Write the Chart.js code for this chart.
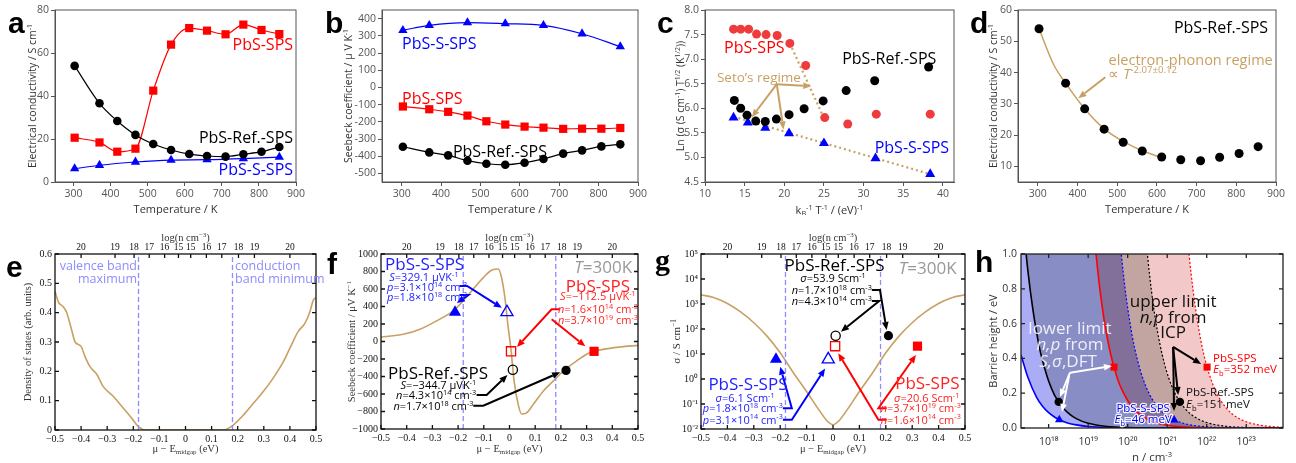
<!DOCTYPE html>
<html>
<head>
<meta charset="utf-8">
<title>PbS transport panels</title>
<script src="https://cdn.jsdelivr.net/npm/chart.js@4.4.1/dist/chart.umd.min.js"></script>
<style>
  body { margin: 0; background: #fff; }
  #wrap { position: relative; width: 1296px; height: 463px; overflow: hidden; background: #fff; }
  canvas { position: absolute; }
</style>
</head>
<body>
<div id="wrap">
  <canvas id="pa"></canvas><canvas id="pb"></canvas><canvas id="pc"></canvas><canvas id="pd"></canvas>
  <canvas id="pe"></canvas><canvas id="pf"></canvas><canvas id="pg"></canvas><canvas id="ph"></canvas>
</div>
<script>
const SANS = "'Open Sans', sans-serif";
const SERIF = "'Liberation Serif', serif";
const BOLD = "'Liberation Sans', sans-serif";
const TAN = '#c9a064';
const LAV = '#8c8cff';
const BLUE = '#0000ff', RED = '#ff0000';

// ---- a, b, d : temperature series ----
const tempAll = [303, 370, 418, 467, 515, 563, 612, 660, 710, 758, 807, 855];
const tempS = [303, 370, 467, 563, 660, 758, 855];
const condRef = [54.0, 36.6, 28.4, 21.9, 17.7, 14.9, 13.0, 12.1, 11.8, 12.9, 14.1, 16.3];
const condSps = [20.6, 18.4, 14.1, 15.5, 42.5, 63.9, 71.6, 70.4, 68.7, 73.2, 70.7, 68.8];
const condS = [6.2, 7.8, 9.3, 10.2, 10.4, 10.9, 11.6];
const seebRef = [-345, -378, -395, -426, -444, -450, -438, -416, -385, -366, -343, -331];
const seebSps = [-111, -127, -142, -164, -197, -216, -228, -234, -241, -240, -240, -236];
const seebS = [332, 361, 377, 371, 361, 312, 237];
const fitT = [303, 340, 370, 418, 467, 515, 563, 612];
const fitCond = [54, 42.5, 36.6, 28.4, 22.0, 18.0, 15.0, 12.8];
const tickT = [300, 400, 500, 600, 700, 800, 900];

// ---- c : Seto plot ----
const cSpsX = [13.6, 14.5, 15.5, 16.5, 17.7, 19.1, 20.7, 22.7, 25.1, 28.0, 31.6, 38.4];
const cSpsY = [7.61, 7.61, 7.61, 7.51, 7.50, 7.48, 7.32, 6.87, 5.81, 5.68, 5.88, 5.88];
const cRefX = [13.7, 14.5, 15.3, 16.4, 17.6, 19.0, 20.6, 22.5, 24.9, 27.8, 31.4, 38.2];
const cRefY = [6.16, 6.00, 5.86, 5.74, 5.73, 5.78, 5.87, 5.99, 6.15, 6.36, 6.56, 6.84];
const cSX = [13.6, 15.4, 17.6, 20.6, 25.0, 31.5, 38.4];
const cSY = [5.81, 5.71, 5.60, 5.49, 5.29, 4.98, 4.66];
const cGuideSpsX = [20.7, 25.0], cGuideSpsY = [7.32, 5.80];
const cGuideSX = [13.6, 38.4], cGuideSY = [5.83, 4.66];
const cGuideRefX = [13.7, 16.2], cGuideRefY = [6.16, 5.76];

// ---- e, f, g : DFT curves ----
const muDos = [-0.5, -0.487, -0.468, -0.455, -0.436, -0.423, -0.4, -0.385, -0.366, -0.34, -0.315, -0.276, -0.238, -0.206, -0.18, -0.149,
  0.15, 0.158, 0.183, 0.222, 0.26, 0.298, 0.336, 0.375, 0.4, 0.432, 0.458, 0.477, 0.49, 0.5];
const dos = [0.473, 0.436, 0.42, 0.40, 0.34, 0.30, 0.285, 0.25, 0.216, 0.19, 0.148, 0.114, 0.074, 0.04, 0.011, 0,
  0, 0.003, 0.017, 0.051, 0.091, 0.131, 0.177, 0.233, 0.279, 0.336, 0.364, 0.404, 0.444, 0.45];
const muSeeb = [-0.5, -0.413, -0.348, -0.284, -0.219, -0.18, -0.141, -0.102, -0.07, -0.044, -0.031, -0.018, -0.005, 0.005,
  0.018, 0.034, 0.047, 0.066, 0.092, 0.131, 0.17, 0.209, 0.26, 0.312, 0.364, 0.429, 0.5];
const seebDft = [52, 82, 140, 235, 350, 465, 600, 730, 815, 828, 732, 503, 159, -71,
  -453, -721, -828, -816, -721, -568, -453, -338, -224, -128, -90, -63, -44];
const muCond = [-0.5, -0.45, -0.4, -0.35, -0.3, -0.25, -0.2, -0.15, -0.1, -0.05, -0.02, 0, 0.02, 0.05, 0.1, 0.15, 0.2, 0.25, 0.3, 0.35, 0.4, 0.45, 0.5];
const condDft = [2340, 1780, 1050, 480, 178, 52, 11.2, 1.78, 0.316, 0.052, 0.02, 0.0148, 0.02, 0.052, 0.316, 1.78, 11.2, 52, 178, 480, 1050, 1780, 2340];
const bandX = [-0.18, 0.18];
const topPos = [-0.4, -0.27, -0.197, -0.139, -0.08, -0.027, 0.02, 0.08, 0.139, 0.203, 0.264, 0.4];
const topLab = ['20', '19', '18', '17', '16', '15', '15', '16', '17', '18', '19', '20'];
const muTicks = [-0.5, -0.4, -0.3, -0.2, -0.1, 0, 0.1, 0.2, 0.3, 0.4, 0.5];
// markers: [bulk (filled), boundary (open)]
const fSMu = [-0.212, -0.01], fSS = [335, 335];
const fSpsMu = [0.329, 0.006], fSpsS = [-112.5, -112.5];
const fRefMu = [0.22, 0.013], fRefS = [-330, -322];
const gSMu = [-0.216, -0.018], gSSig = [6.1, 6.1];
const gSpsMu = [0.32, 0.008], gSpsSig = [20.6, 20.6];
const gRefMu = [0.21, 0.01], gRefSig = [53.9, 53.9];

// ---- h : barrier height vs carrier density ----
const hSLoN = [2e17, 3e17, 5e17, 7e17, 1e18, 1.5e18, 2e18, 3e18, 5e18, 1e19, 3e19, 1e20, 1e21, 8.5e23];
const hSLoE = [0.42, 0.29, 0.175, 0.125, 0.088, 0.059, 0.044, 0.029, 0.018, 0.009, 0.003, 0.001, 0.0001, 0];
const hRefLoN = [2e17, 2.5e17, 3e17, 4e17, 6e17, 8e17, 1e18, 1.4e18, 1.8e18, 2.5e18, 3.5e18, 5e18, 1e19, 3e19, 1e20, 1e21, 8.5e23];
const hRefLoE = [1.35, 1.08, 0.9, 0.68, 0.45, 0.34, 0.27, 0.19, 0.15, 0.108, 0.077, 0.054, 0.027, 0.009, 0.003, 0.0003, 0];
const hSpsLoN = [2e17, 1.2e19, 1.4e19, 1.7e19, 2e19, 2.5e19, 3e19, 3.7e19, 4.5e19, 6e19, 8e19, 1e20, 1.5e20, 2e20, 3e20, 5e20, 1e21, 1e22, 8.5e23];
const hSpsLoE = [1.3, 1.3, 1.125, 0.93, 0.79, 0.63, 0.525, 0.425, 0.35, 0.26, 0.197, 0.158, 0.105, 0.079, 0.053, 0.032, 0.016, 0.0016, 0];
const hSHiN = [2e17, 5e19, 6e19, 7e19, 8.5e19, 1e20, 1.3e20, 1.7e20, 2.2e20, 3e20, 4e20, 6e20, 1e21, 1.5e21, 3e21, 1e22, 1e23, 8.5e23];
const hSHiE = [1.3, 1.3, 1.15, 0.986, 0.81, 0.69, 0.53, 0.406, 0.314, 0.23, 0.1725, 0.115, 0.069, 0.046, 0.023, 0.0069, 0.0007, 0];
const hRefHiN = [2e17, 2.4e20, 2.8e20, 3.2e20, 4e20, 5e20, 6.5e20, 8.5e20, 1.1e21, 1.5e21, 2.1e21, 3e21, 5e21, 1e22, 3e22, 1e23, 8.5e23];
const hRefHiE = [1.3, 1.3, 1.125, 0.984, 0.7875, 0.63, 0.485, 0.37, 0.286, 0.21, 0.15, 0.105, 0.063, 0.0315, 0.0105, 0.0032, 0];
const hSpsHiN = [2e17, 2.8e21, 3.2e21, 3.6e21, 4.5e21, 5.5e21, 7e21, 8.5e21, 1.02e22, 1.3e22, 1.7e22, 2.3e22, 3e22, 4.5e22, 7e22, 1e23, 2e23, 4e23, 8.5e23];
const hSpsHiE = [1.3, 1.3, 1.115, 0.99, 0.793, 0.65, 0.51, 0.42, 0.35, 0.275, 0.21, 0.155, 0.119, 0.079, 0.051, 0.0357, 0.018, 0.009, 0.0042];
const hSN = [1.86e18, 1.5e21], hSE = [0.047, 0.046];
const hRefN = [1.8e18, 2.1e21], hRefE = [0.15, 0.15];
const hSpsN = [4.5e19, 1.02e22], hSpsE = [0.35, 0.35];
const hTicksN = [1e18, 1e19, 1e20, 1e21, 1e22, 1e23];

// ---- helpers ----
const pts = (xs, ys) => xs.map((x, i) => ({ x: x, y: ys[i] }));
const fixTicks = vals => axis => { axis.ticks = vals.map(v => ({ value: v })); };
const minus = v => String(v).replace('-', '\u2212');
const SUP = { '0': '\u2070', '1': '\u00b9', '2': '\u00b2', '3': '\u00b3', '4': '\u2074', '5': '\u2075', '6': '\u2076', '7': '\u2077', '8': '\u2078', '9': '\u2079', '-': '\u207b' };
const pow10 = v => '10' + String(Math.round(Math.log10(v))).split('').map(c => SUP[c]).join('');

function line(xs, ys, col, style, r, extra) {
  return Object.assign({
    data: pts(xs, ys), showLine: true, borderColor: col, backgroundColor: col, borderWidth: 1.2,
    pointStyle: style, pointRadius: r, pointBorderWidth: 0, pointBackgroundColor: col,
    cubicInterpolationMode: 'monotone'
  }, extra || {});
}
function dots(xs, ys, col, style, r, extra) {
  return line(xs, ys, col, style, r, Object.assign({ showLine: false }, extra || {}));
}
function markers(xs, ys, col, style, r) {
  // first point filled, second open
  return dots(xs, ys, col, style, r, { pointBackgroundColor: [col, 'rgba(0,0,0,0)'], pointBorderColor: col, pointBorderWidth: [0, 1.3] });
}
function curve(xs, ys, col, w, extra) {
  return Object.assign({
    data: pts(xs, ys), showLine: true, borderColor: col, backgroundColor: col, borderWidth: w,
    pointRadius: 0, cubicInterpolationMode: 'monotone', fill: false
  }, extra || {});
}

function sansAxis(min, max, vals, cb) {
  const t = { autoSkip: false, maxRotation: 0, color: '#555', font: { family: SANS, size: 10.5 }, padding: 2 };
  if (cb) t.callback = cb;
  return {
    type: 'linear', min: min, max: max, afterBuildTicks: fixTicks(vals),
    grid: { display: true, drawOnChartArea: false, drawTicks: true, tickLength: 4, color: '#555' },
    border: { display: true, color: '#555' }, ticks: t
  };
}
function plainAxis(type, min, max, vals, cb, fam, size, col, pad) {
  return {
    type: type, min: min, max: max, afterBuildTicks: fixTicks(vals),
    grid: { display: false, drawTicks: false }, border: { display: false },
    ticks: { autoSkip: false, maxRotation: 0, color: col || '#111', font: { family: fam, size: size }, padding: pad || 3, callback: cb }
  };
}
function topAxis() {
  return {
    type: 'linear', position: 'top', axis: 'x', min: -0.5, max: 0.5, afterBuildTicks: fixTicks(topPos),
    grid: { display: false, drawTicks: false }, border: { display: false },
    ticks: { autoSkip: false, maxRotation: 0, padding: 1, color: '#111', font: { family: SERIF, size: 9.5 }, callback: (v, i) => topLab[i] }
  };
}

// rich text: ^{..} superscript, _{..} subscript, ~ toggles italic
function rich(ctx, s, x, y, o) {
  const size = o.sz || 12, fam = o.fam || SANS, wt = o.w || 'normal';
  const segs = [];
  let it = false, mode = 0, cur = '';
  const push = () => { if (cur) segs.push({ t: cur, m: mode, it: it }); cur = ''; };
  for (let i = 0; i < s.length; i++) {
    const ch = s[i];
    if ((ch === '^' || ch === '_') && s[i + 1] === '{') { push(); mode = ch === '^' ? 1 : -1; i++; continue; }
    if (ch === '}' && mode) { push(); mode = 0; continue; }
    if (ch === '~') { push(); it = !it; continue; }
    cur += ch;
  }
  push();
  const fontOf = g => (g.it ? 'italic ' : '') + wt + ' ' + (g.m ? size * 0.66 : size) + 'px ' + fam;
  let total = 0;
  segs.forEach(g => { ctx.font = fontOf(g); g.wd = ctx.measureText(g.t).width; total += g.wd; });
  ctx.save();
  ctx.translate(x, y);
  if (o.rot) ctx.rotate(o.rot);
  let cx = o.al === 'right' ? -total : o.al === 'center' ? -total / 2 : 0;
  const base = o.base ? 0 : size * 0.36;
  ctx.textBaseline = 'alphabetic';
  ctx.textAlign = 'left';
  segs.forEach(g => {
    ctx.font = fontOf(g);
    const dy = base + (g.m === 1 ? -size * 0.4 : g.m === -1 ? size * 0.22 : 0);
    if (o.halo) { ctx.strokeStyle = o.halo; ctx.lineWidth = 2.5; ctx.lineJoin = 'round'; ctx.strokeText(g.t, cx, dy); }
    ctx.fillStyle = o.c || '#000';
    ctx.fillText(g.t, cx, dy);
    cx += g.wd;
  });
  ctx.restore();
}

function arrow(ctx, p, col, w, head) {
  const n = p.length, x1 = p[n - 2][0], y1 = p[n - 2][1], x2 = p[n - 1][0], y2 = p[n - 1][1];
  const ang = Math.atan2(y2 - y1, x2 - x1), L = head || 8, W = L * 0.42;
  const bx = x2 - Math.cos(ang) * L, by = y2 - Math.sin(ang) * L;
  ctx.strokeStyle = col; ctx.fillStyle = col; ctx.lineWidth = w; ctx.lineJoin = 'miter';
  ctx.beginPath();
  ctx.moveTo(p[0][0], p[0][1]);
  for (let i = 1; i < n - 1; i++) ctx.lineTo(p[i][0], p[i][1]);
  ctx.lineTo(bx, by);
  ctx.stroke();
  ctx.beginPath();
  ctx.moveTo(x2, y2);
  ctx.lineTo(bx + Math.sin(ang) * W, by - Math.cos(ang) * W);
  ctx.lineTo(bx - Math.sin(ang) * W, by + Math.cos(ang) * W);
  ctx.closePath();
  ctx.fill();
}

// per-canvas decoration (frame, labels, arrows), keyed by canvas id
const DECO = {};
const decoPlugin = {
  id: 'deco',
  // multiply only the area fills (the filler runs just before each dataset's own draw)
  beforeDatasetsDraw(chart) {
    const d = DECO[chart.canvas.id];
    if (d && d.multiply) chart.ctx.globalCompositeOperation = 'multiply';
  },
  beforeDatasetDraw(chart) {
    const d = DECO[chart.canvas.id];
    if (d && d.multiply) chart.ctx.globalCompositeOperation = 'source-over';
  },
  afterDatasetDraw(chart) {
    const d = DECO[chart.canvas.id];
    if (d && d.multiply) chart.ctx.globalCompositeOperation = 'multiply';
  },
  afterDatasetsDraw(chart) {
    const d = DECO[chart.canvas.id];
    if (d && d.multiply) chart.ctx.globalCompositeOperation = 'source-over';
  },
  afterDraw(chart) {
    const d = DECO[chart.canvas.id];
    if (!d) return;
    const ctx = chart.ctx, A = chart.chartArea, X = chart.scales.x, Y = chart.scales.y;
    const P = q => [X.getPixelForValue(q[0]), Y.getPixelForValue(q[1])];
    ctx.save();
    ctx.strokeStyle = d.frame || '#555';
    ctx.lineWidth = d.frameW || 1;
    ctx.strokeRect(A.left, A.top, A.right - A.left, A.bottom - A.top);
    if (d.inTicks) {
      ctx.beginPath();
      const top = chart.scales.xt || X;
      X.ticks.forEach(t => { const x = X.getPixelForValue(t.value); ctx.moveTo(x, A.bottom); ctx.lineTo(x, A.bottom - 4); });
      top.ticks.forEach(t => { const x = top.getPixelForValue(t.value); ctx.moveTo(x, A.top); ctx.lineTo(x, A.top + 4); });
      Y.ticks.forEach(t => { const y = Y.getPixelForValue(t.value); ctx.moveTo(A.left, y); ctx.lineTo(A.left + 4, y); ctx.moveTo(A.right, y); ctx.lineTo(A.right - 4, y); });
      ctx.stroke();
    }
    (d.arrows || []).forEach(a => arrow(ctx, a.p.map(P), a.c, a.w || 2, a.h || 8));
    (d.texts || []).forEach(t => {
      const q = P([t.x, t.y]);
      rich(ctx, t.s, q[0], q[1], Object.assign({ sz: d.tsz, fam: d.tfam }, t));
    });
    (d.labels || []).forEach(t => rich(ctx, t.s, t.x - d.ox, t.y - d.oy, t));
    ctx.restore();
  }
};

function panel(id, box, plot, scales, datasets, deco) {
  const cv = document.getElementById(id);
  cv.width = box[2]; cv.height = box[3];
  cv.style.left = box[0] + 'px'; cv.style.top = box[1] + 'px';
  const L = plot[0] - box[0], T = plot[1] - box[1];
  const R = box[0] + box[2] - plot[2], B = box[1] + box[3] - plot[3];
  const zero = s => { s.paddingLeft = 0; s.paddingRight = 0; s.paddingTop = 0; s.paddingBottom = 0; };
  scales.x.afterFit = s => { s.height = B; zero(s); };
  scales.y.afterFit = s => { s.width = L; zero(s); };
  if (scales.xt) scales.xt.afterFit = s => { s.height = T; zero(s); };
  deco.ox = box[0]; deco.oy = box[1];
  DECO[id] = deco;
  return new Chart(cv, {
    type: 'scatter',
    data: { datasets: datasets },
    options: {
      responsive: false, animation: false, devicePixelRatio: 1,
      layout: { padding: { left: 0, top: scales.xt ? 0 : T, right: R, bottom: 0 } },
      plugins: { legend: { display: false }, tooltip: { enabled: false } },
      scales: scales
    },
    plugins: [decoPlugin]
  });
}

const letter = (s, x, y, fam) => ({ s: s, x: x, y: y, sz: 30, fam: fam || BOLD, w: 'bold', base: true });
const xTitle = (s, x, y, fam, sz) => ({ s: s, x: x, y: y, sz: sz || 11, fam: fam || SANS, c: '#333', al: 'center' });
const yTitle = (s, x, y, fam, sz) => ({ s: s, x: x, y: y, sz: sz || 10.5, fam: fam || SANS, c: '#333', al: 'center', rot: -Math.PI / 2 });

// ---------------- a ----------------
panel('pa', [0, 0, 322, 215], [55, 10, 296, 182], {
  x: sansAxis(250, 900, tickT),
  y: sansAxis(0, 80, [0, 20, 40, 60, 80])
}, [
  line(tempAll, condRef, '#000', 'circle', 4.3),
  line(tempAll, condSps, RED, 'rect', 5.8),
  line(tempS, condS, BLUE, 'triangle', 5.4)
], {
  tsz: 16, tfam: SANS,
  texts: [
    { x: 892, y: 64.2, s: 'PbS-SPS', c: RED, al: 'right' },
    { x: 892, y: 20.9, s: 'PbS-Ref.-SPS', c: '#000', al: 'right' },
    { x: 892, y: 6.0, s: 'PbS-S-SPS', c: BLUE, al: 'right' }
  ],
  labels: [letter('a', 8, 33), xTitle('Temperature / K', 175.5, 209), yTitle('Electrical conductivity / S cm^{-1}', 32, 96)]
});

// ---------------- b ----------------
panel('pb', [318, 0, 335, 215], [382, 10, 638, 182], {
  x: sansAxis(250, 900, tickT),
  y: sansAxis(-550, 450, [-500, -400, -300, -200, -100, 0, 100, 200, 300, 400])
}, [
  line(tempAll, seebRef, '#000', 'circle', 4.3),
  line(tempAll, seebSps, RED, 'rect', 5.8),
  line(tempS, seebS, BLUE, 'triangle', 5.4)
], {
  tsz: 16, tfam: SANS,
  texts: [
    { x: 301, y: 258, s: 'PbS-S-SPS', c: BLUE },
    { x: 301, y: -62, s: 'PbS-SPS', c: RED },
    { x: 430, y: -370, s: 'PbS-Ref.-SPS', c: '#000' }
  ],
  labels: [letter('b', 325, 33), xTitle('Temperature / K', 510, 209), yTitle('Seebeck coefficient / \u03bc V K^{-1}', 348, 96)]
});

// ---------------- c ----------------
panel('pc', [648, 0, 318, 215], [705, 10, 954, 182], {
  x: sansAxis(10, 41.4, [10, 15, 20, 25, 30, 35, 40]),
  y: sansAxis(4.5, 8.0, [4.5, 5.0, 5.5, 6.0, 6.5, 7.0, 7.5, 8.0], v => v.toFixed(1))
}, [
  dots(cRefX, cRefY, '#000', 'circle', 4.5),
  dots(cSpsX, cSpsY, '#ee3b3b', 'circle', 4.5),
  dots(cSX, cSY, BLUE, 'triangle', 5.8),
  curve(cGuideSpsX, cGuideSpsY, TAN, 2.2, { borderDash: [2, 3] }),
  curve(cGuideSX, cGuideSY, TAN, 2.2, { borderDash: [2, 3] }),
  curve(cGuideRefX, cGuideRefY, TAN, 2.2, { borderDash: [2, 3] })
], {
  tsz: 16, tfam: SANS,
  arrows: [
    { p: [[19.05, 6.49], [23.4, 6.45]], c: TAN, w: 2 },
    { p: [[19.05, 6.49], [15.9, 5.82]], c: TAN, w: 2 },
    { p: [[19.05, 6.49], [19.9, 5.57]], c: TAN, w: 2 }
  ],
  texts: [
    { x: 12.4, y: 7.25, s: 'PbS-SPS', c: RED },
    { x: 27.3, y: 7.02, s: 'PbS-Ref.-SPS', c: '#000' },
    { x: 31.4, y: 5.21, s: 'PbS-S-SPS', c: BLUE },
    { x: 11.5, y: 6.64, s: 'Seto\u2019s regime', c: TAN, sz: 13.5 }
  ],
  labels: [letter('c', 657, 33), xTitle('k_{B}^{-1} T^{-1} / (eV)^{-1}', 829.5, 210),
    yTitle('Ln (\u03c3 (S cm^{-1}) T^{1/2} (K^{1/2}))', 680, 96)]
});

// ---------------- d ----------------
panel('pd', [964, 0, 332, 215], [1018, 10, 1276, 182], {
  x: sansAxis(250, 900, tickT),
  y: sansAxis(5, 60, [10, 20, 30, 40, 50, 60])
}, [
  dots(tempAll, condRef, '#000', 'circle', 4.5),
  curve(fitT, fitCond, TAN, 1.5)
], {
  tsz: 16, tfam: SANS,
  arrows: [{ p: [[470, 38.5], [402, 31.8]], c: TAN, w: 2 }],
  texts: [
    { x: 880, y: 54.5, s: 'PbS-Ref.-SPS', c: '#000', al: 'right' },
    { x: 478, y: 44, s: 'electron-phonon regime', c: TAN, sz: 14.5 },
    { x: 478, y: 39.6, s: '\u221d ~T~^{-2.07\u00b10.12}', c: TAN, sz: 14.5 }
  ],
  labels: [letter('d', 970, 33), xTitle('Temperature / K', 1147, 209), yTitle('Electrical conductivity / S cm^{-1}', 993, 96)]
});

// ---------------- e ----------------
const dashV = (x, lo, hi) => curve([x, x], [lo, hi], LAV, 1.3, { borderDash: [5, 3], cubicInterpolationMode: 'default' });
panel('pe', [0, 215, 328, 248], [55, 254, 316, 430], {
  x: plainAxis('linear', -0.5, 0.5, muTicks, minus, SERIF, 10),
  y: plainAxis('linear', 0, 0.6, [0, 0.1, 0.2, 0.3, 0.4, 0.5, 0.6], minus, SERIF, 10),
  xt: topAxis()
}, [
  dashV(bandX[0], 0, 0.6), dashV(bandX[1], 0, 0.6),
  curve(muDos, dos, TAN, 1.6)
], {
  inTicks: true, frame: '#111', frameW: 1.3, tsz: 12.5, tfam: SANS,
  texts: [
    { x: -0.186, y: 0.562, s: 'valence band', c: LAV, al: 'right' },
    { x: -0.186, y: 0.515, s: 'maximum', c: LAV, al: 'right' },
    { x: 0.19, y: 0.562, s: 'conduction', c: LAV },
    { x: 0.19, y: 0.515, s: 'band minimum', c: LAV }
  ],
  labels: [letter('e', 6, 277), xTitle('\u03bc \u2212 E_{midgap} (eV)', 185.5, 448, SERIF, 10.5),
    xTitle('log(n cm^{\u22123})', 185.5, 237, SERIF, 10.5), yTitle('Density of states (arb. units)', 27, 342, SERIF, 10.5)]
});

// ---------------- f ----------------
const fB = '#2222ff', fR = '#ff2222';
panel('pf', [322, 215, 330, 248], [381, 254, 638, 429], {
  x: plainAxis('linear', -0.5, 0.5, muTicks, minus, SERIF, 10),
  y: plainAxis('linear', -1000, 1000, [-1000, -800, -600, -400, -200, 0, 200, 400, 600, 800, 1000], minus, SERIF, 10),
  xt: topAxis()
}, [
  markers(fSMu, fSS, BLUE, 'triangle', 7),
  markers(fSpsMu, fSpsS, RED, 'rect', 6.5),
  markers(fRefMu, fRefS, '#000', 'circle', 4.6),
  dashV(bandX[0], -1000, 1000), dashV(bandX[1], -1000, 1000),
  curve(muSeeb, seebDft, TAN, 1.6)
], {
  inTicks: true, frame: '#111', frameW: 1.3, tsz: 11, tfam: SANS,
  arrows: [
    { p: [[-0.195, 634], [-0.165, 634], [-0.03, 385]], c: BLUE },
    { p: [[-0.195, 531], [-0.16, 531], [-0.205, 440]], c: BLUE },
    { p: [[0.197, 368], [0.164, 368], [0.029, -63]], c: RED },
    { p: [[0.164, 254], [0.295, -55]], c: RED },
    { p: [[-0.128, -612], [-0.089, -612], [-0.008, -383]], c: '#000' },
    { p: [[-0.141, -734], [-0.102, -734], [0.197, -352]], c: '#000' }
  ],
  texts: [
    { x: -0.484, y: 886, s: 'PbS-S-SPS', c: fB, sz: 17 },
    { x: -0.333, y: 737, s: '~S~=329.1 \u03bcVK^{-1}', c: fB, al: 'center' },
    { x: -0.321, y: 623, s: '~p~=3.1\u00d710^{14} cm^{-3}', c: fB, al: 'center' },
    { x: -0.321, y: 509, s: '~p~=1.8\u00d710^{18} cm^{-3}', c: fB, al: 'center' },
    { x: 0.477, y: 851, s: '~T~=300K', c: '#999', al: 'right', sz: 17 },
    { x: 0.344, y: 634, s: 'PbS-SPS', c: fR, al: 'center', sz: 17 },
    { x: 0.344, y: 520, s: '~S~=\u2212112.5 \u03bcVK^{-1}', c: fR, al: 'center' },
    { x: 0.344, y: 371, s: '~n~=1.6\u00d710^{14} cm^{-3}', c: fR, al: 'center' },
    { x: 0.344, y: 246, s: '~n~=3.7\u00d710^{19} cm^{-3}', c: fR, al: 'center' },
    { x: -0.278, y: -360, s: 'PbS-Ref.-SPS', c: '#000', al: 'center', sz: 17 },
    { x: -0.13, y: -497, s: '~S~=\u2212344.7 \u03bcVK^{-1}', c: '#000', al: 'right' },
    { x: -0.13, y: -612, s: '~n~=4.3\u00d710^{14} cm^{-3}', c: '#000', al: 'right' },
    { x: -0.14, y: -737, s: '~n~=1.7\u00d710^{18} cm^{-3}', c: '#000', al: 'right' }
  ],
  labels: [letter('f', 327, 274), xTitle('\u03bc \u2212 E_{midgap} (eV)', 509.5, 448, SERIF, 10.5),
    xTitle('log(n cm^{\u22123})', 509.5, 237, SERIF, 10.5), yTitle('Seebeck coefficient / \u03bcV K^{\u22121}', 351, 341.5, SERIF, 10.5)]
});

// ---------------- g ----------------
panel('pg', [648, 215, 330, 248], [701, 254, 965, 429], {
  x: plainAxis('linear', -0.5, 0.5, muTicks, minus, SERIF, 10),
  y: plainAxis('logarithmic', 1e-2, 1e5, [1e-2, 1e-1, 1, 10, 100, 1e3, 1e4, 1e5], pow10, SERIF, 10),
  xt: topAxis()
}, [
  markers(gSMu, gSSig, BLUE, 'triangle', 7),
  markers(gSpsMu, gSpsSig, RED, 'rect', 6.5),
  markers(gRefMu, gRefSig, '#000', 'circle', 4.6),
  dashV(bandX[0], 1e-2, 1e5), dashV(bandX[1], 1e-2, 1e5),
  curve(muCond, condDft, TAN, 1.6)
], {
  inTicks: true, frame: '#111', frameW: 1.3, tsz: 11, tfam: SANS,
  arrows: [
    { p: [[0.147, 10 ** 3.56], [0.178, 10 ** 3.56], [0.203, 10 ** 1.96]], c: '#000' },
    { p: [[0.147, 10 ** 3.12], [0.175, 10 ** 3.12], [0.03, 10 ** 1.89]], c: '#000' },
    { p: [[-0.19, 10 ** -1.17], [-0.156, 10 ** -1.17], [-0.2, 10 ** 0.49]], c: BLUE },
    { p: [[-0.19, 10 ** -1.63], [-0.156, 10 ** -1.63], [-0.03, 10 ** 0.42]], c: BLUE },
    { p: [[0.203, 10 ** -1.17], [0.172, 10 ** -1.17], [0.314, 10 ** 0.96]], c: RED },
    { p: [[0.203, 10 ** -1.63], [0.172, 10 ** -1.63], [0.02, 10 ** 1.03]], c: RED }
  ],
  texts: [
    { x: 0.006, y: 10 ** 4.56, s: 'PbS-Ref.-SPS', c: '#000', al: 'center', sz: 17 },
    { x: 0.0, y: 10 ** 4.04, s: '~\u03c3~=53.9 Scm^{-1}', c: '#000', al: 'center' },
    { x: 0.147, y: 10 ** 3.56, s: '~n~=1.7\u00d710^{18} cm^{-3}', c: '#000', al: 'right' },
    { x: 0.147, y: 10 ** 3.12, s: '~n~=4.3\u00d710^{14} cm^{-3}', c: '#000', al: 'right' },
    { x: 0.468, y: 10 ** 4.45, s: '~T~=300K', c: '#999', al: 'right', sz: 17 },
    { x: -0.472, y: 10 ** -0.21, s: 'PbS-S-SPS', c: fB, sz: 17 },
    { x: -0.333, y: 10 ** -0.77, s: '~\u03c3~=6.1 Scm^{-1}', c: fB, al: 'center' },
    { x: -0.19, y: 10 ** -1.17, s: '~p~=1.8\u00d710^{18} cm^{-3}', c: fB, al: 'right' },
    { x: -0.19, y: 10 ** -1.63, s: '~p~=3.1\u00d710^{14} cm^{-3}', c: fB, al: 'right' },
    { x: 0.479, y: 10 ** -0.17, s: 'PbS-SPS', c: fR, al: 'right', sz: 17 },
    { x: 0.355, y: 10 ** -0.77, s: '~\u03c3~=20.6 Scm^{-1}', c: fR, al: 'center' },
    { x: 0.484, y: 10 ** -1.17, s: '~n~=3.7\u00d710^{19} cm^{-3}', c: fR, al: 'right' },
    { x: 0.484, y: 10 ** -1.63, s: '~n~=1.6\u00d710^{14} cm^{-3}', c: fR, al: 'right' }
  ],
  labels: [letter('g', 655, 270, "'Liberation Serif', serif"), xTitle('\u03bc \u2212 E_{midgap} (eV)', 833, 448, SERIF, 10.5),
    xTitle('log(n cm^{\u22123})', 833, 237, SERIF, 10.5), yTitle('\u03c3 / S cm^{\u22121}', 676, 341.5, SERIF, 11)]
});

// ---------------- h ----------------
panel('ph', [968, 215, 328, 248], [1021, 254, 1283, 428], {
  x: plainAxis('logarithmic', 2e17, 8.5e23, hTicksN, pow10, SANS, 10.5, '#333', 8),
  y: plainAxis('linear', 0, 1, [0, 0.2, 0.4, 0.6, 0.8, 1.0], v => v.toFixed(1), SANS, 10.5, '#333', 4)
}, [
  dots(hSN, hSE, BLUE, 'triangle', 5, { order: 0 }),
  dots(hRefN, hRefE, '#000', 'circle', 4.2, { order: 0 }),
  dots(hSpsN, hSpsE, RED, 'rect', 5, { order: 0 }),
  curve(hSLoN, hSLoE, BLUE, 1.6, { fill: 6, backgroundColor: '#aaacf6', order: 3 }),
  curve(hRefLoN, hRefLoE, '#000', 1.6, { fill: 7, backgroundColor: '#cdd1cc', order: 2 }),
  curve(hSpsLoN, hSpsLoE, RED, 1.6, { fill: 8, backgroundColor: '#f2c8c8', order: 1 }),
  curve(hSHiN, hSHiE, BLUE, 1.2, { borderDash: [2, 2], order: 0.5 }),
  curve(hRefHiN, hRefHiE, '#000', 1.2, { borderDash: [2, 2], order: 0.5 }),
  curve(hSpsHiN, hSpsHiE, RED, 1.2, { borderDash: [2, 2], order: 0.5 })
], {
  multiply: true, inTicks: true, frame: '#222', frameW: 1.3, tsz: 17, tfam: SANS,
  arrows: [
    { p: [[3.47e18, 0.318], [4.0e19, 0.356]], c: '#fff' },
    { p: [[3.47e18, 0.318], [1.94e18, 0.178]], c: '#fff' },
    { p: [[3.3e18, 0.30], [2.18e18, 0.092]], c: '#fff' },
    { p: [[1.41e21, 0.466], [7.2e21, 0.368]], c: '#000' },
    { p: [[1.41e21, 0.466], [1.89e21, 0.19]], c: '#000' },
    { p: [[1.41e21, 0.466], [1.49e21, 0.098]], c: '#000' }
  ],
  texts: [
    { x: 3.47e18, y: 0.575, s: 'lower limit', c: 'rgba(255,255,255,0.85)', al: 'center' },
    { x: 3.47e18, y: 0.483, s: '~n,p~ from', c: 'rgba(255,255,255,0.85)', al: 'center' },
    { x: 3.1e18, y: 0.385, s: '~S,\u03c3~,DFT', c: 'rgba(255,255,255,0.85)', al: 'center' },
    { x: 1.41e21, y: 0.73, s: 'upper limit', c: '#111', al: 'center' },
    { x: 1.41e21, y: 0.638, s: '~n,p~ from', c: '#111', al: 'center' },
    { x: 1.41e21, y: 0.552, s: 'ICP', c: '#111', al: 'center' },
    { x: 1.45e22, y: 0.402, s: 'PbS-SPS', c: RED, sz: 11.5 },
    { x: 1.45e22, y: 0.339, s: '~E~_{b}=352 meV', c: RED, sz: 11.5 },
    { x: 3.0e21, y: 0.207, s: 'PbS-Ref.-SPS', c: '#111', sz: 11.5 },
    { x: 3.0e21, y: 0.138, s: '~E~_{b}=151 meV', c: '#111', sz: 11.5 },
    { x: 2.46e20, y: 0.115, s: 'PbS-S-SPS', c: BLUE, sz: 11.5, al: 'center', halo: 'rgba(255,255,255,0.9)' },
    { x: 2.46e20, y: 0.052, s: '~E~_{b}=46 meV', c: BLUE, sz: 11.5, al: 'center', halo: 'rgba(255,255,255,0.9)' }
  ],
  labels: [letter('h', 975, 272), xTitle('n / cm^{-3}', 1152, 457, SANS, 11.5), yTitle('Barrier height / eV', 993, 341, SANS, 11)]
});
</script>
</body>
</html>
